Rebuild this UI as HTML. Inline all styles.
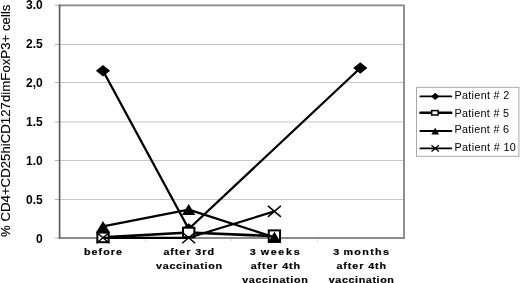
<!DOCTYPE html><html><head><meta charset="utf-8"><style>html,body{margin:0;padding:0;background:#fff;width:520px;height:283px;overflow:hidden}svg{display:block;will-change:transform}text{font-family:"Liberation Sans",sans-serif}</style></head><body>
<svg width="520" height="283" viewBox="0 0 520 283">
<rect width="520" height="283" fill="#fff"/>
<line x1="59.5" y1="44.5" x2="404.0" y2="44.5" stroke="#c6c6c6" stroke-width="1"/>
<line x1="59.5" y1="82.5" x2="404.0" y2="82.5" stroke="#c6c6c6" stroke-width="1"/>
<line x1="59.5" y1="122.0" x2="404.0" y2="122.0" stroke="#c6c6c6" stroke-width="1"/>
<line x1="59.5" y1="160.5" x2="404.0" y2="160.5" stroke="#c6c6c6" stroke-width="1"/>
<line x1="59.5" y1="199.5" x2="404.0" y2="199.5" stroke="#c6c6c6" stroke-width="1"/>
<line x1="55" y1="5.3" x2="59.5" y2="5.3" stroke="#b0b0b0" stroke-width="1"/>
<line x1="55" y1="44.5" x2="59.5" y2="44.5" stroke="#b0b0b0" stroke-width="1"/>
<line x1="55" y1="82.5" x2="59.5" y2="82.5" stroke="#b0b0b0" stroke-width="1"/>
<line x1="55" y1="122.0" x2="59.5" y2="122.0" stroke="#b0b0b0" stroke-width="1"/>
<line x1="55" y1="160.5" x2="59.5" y2="160.5" stroke="#b0b0b0" stroke-width="1"/>
<line x1="55" y1="199.5" x2="59.5" y2="199.5" stroke="#b0b0b0" stroke-width="1"/>
<line x1="55" y1="238" x2="59.5" y2="238" stroke="#b0b0b0" stroke-width="1"/>
<line x1="145.5" y1="238" x2="145.5" y2="241.5" stroke="#d8d8d8" stroke-width="1"/>
<line x1="231.5" y1="238" x2="231.5" y2="241.5" stroke="#d8d8d8" stroke-width="1"/>
<line x1="317.5" y1="238" x2="317.5" y2="241.5" stroke="#d8d8d8" stroke-width="1"/>
<line x1="59.5" y1="5.3" x2="404.8" y2="5.3" stroke="#888" stroke-width="1.7"/>
<line x1="404" y1="5.3" x2="404" y2="238" stroke="#909090" stroke-width="2"/>
<line x1="59.5" y1="238" x2="405" y2="238" stroke="#8c8c8c" stroke-width="2"/>
<line x1="59.6" y1="4.5" x2="59.6" y2="238.8" stroke="#5e5e5e" stroke-width="1.7"/>
<text x="42.8" y="8.90" text-anchor="end" font-size="12" font-weight="bold">3.0</text>
<text x="42.8" y="47.93" text-anchor="end" font-size="12" font-weight="bold">2.5</text>
<text x="42.8" y="86.96" text-anchor="end" font-size="12" font-weight="bold">2,0</text>
<text x="42.8" y="125.99" text-anchor="end" font-size="12" font-weight="bold">1.5</text>
<text x="42.8" y="165.02" text-anchor="end" font-size="12" font-weight="bold">1.0</text>
<text x="42.8" y="204.05" text-anchor="end" font-size="12" font-weight="bold">0.5</text>
<text x="42.8" y="243.08" text-anchor="end" font-size="12" font-weight="bold">0</text>
<text x="91.96" y="255.50" transform="scale(1.12 1)" text-anchor="middle" font-size="9.6" font-weight="bold" textLength="33.9" lengthAdjust="spacing" stroke="#000" stroke-width="0.2">before</text>
<text x="168.48" y="255.40" transform="scale(1.12 1)" text-anchor="middle" font-size="9.6" font-weight="bold" textLength="45.2" lengthAdjust="spacing" stroke="#000" stroke-width="0.2">after 3rd</text>
<text x="168.79" y="269.30" transform="scale(1.12 1)" text-anchor="middle" font-size="9.6" font-weight="bold" textLength="58.8" lengthAdjust="spacing" stroke="#000" stroke-width="0.2">vaccination</text>
<text x="245.27" y="255.40" transform="scale(1.12 1)" text-anchor="middle" font-size="9.6" font-weight="bold" textLength="44.5" lengthAdjust="spacing" stroke="#000" stroke-width="0.2" word-spacing="-1.3">3 weeks</text>
<text x="245.89" y="269.30" transform="scale(1.12 1)" text-anchor="middle" font-size="9.6" font-weight="bold" textLength="44.1" lengthAdjust="spacing" stroke="#000" stroke-width="0.2">after 4th</text>
<text x="245.49" y="283.20" transform="scale(1.12 1)" text-anchor="middle" font-size="9.6" font-weight="bold" textLength="58.5" lengthAdjust="spacing" stroke="#000" stroke-width="0.2">vaccination</text>
<text x="322.46" y="255.40" transform="scale(1.12 1)" text-anchor="middle" font-size="9.6" font-weight="bold" textLength="49.6" lengthAdjust="spacing" stroke="#000" stroke-width="0.2" word-spacing="-1.3">3 months</text>
<text x="322.63" y="269.30" transform="scale(1.12 1)" text-anchor="middle" font-size="9.6" font-weight="bold" textLength="44.4" lengthAdjust="spacing" stroke="#000" stroke-width="0.2">after 4th</text>
<text x="322.63" y="283.20" transform="scale(1.12 1)" text-anchor="middle" font-size="9.6" font-weight="bold" textLength="58.1" lengthAdjust="spacing" stroke="#000" stroke-width="0.2">vaccination</text>
<text transform="translate(10.2 120.8) rotate(-90)" text-anchor="middle" font-size="12.7" textLength="232.5" lengthAdjust="spacingAndGlyphs" stroke="#000" stroke-width="0.12">% CD4+CD25hiCD127dimFoxP3+ cells</text>
<polyline points="103.00,70.70 188.70,229.00 360.30,68.00" fill="none" stroke="#000" stroke-width="2.3" stroke-linejoin="round"/>
<polygon points="95.90,70.70 103.00,65.00 110.10,70.70 103.00,76.40" fill="#000"/>
<polygon points="181.60,229.00 188.70,223.30 195.80,229.00 188.70,234.70" fill="#000"/>
<polygon points="353.20,68.00 360.30,62.30 367.40,68.00 360.30,73.70" fill="#000"/>
<polyline points="103.00,237.40 188.70,232.50 274.40,236.10" fill="none" stroke="#000" stroke-width="2.6" stroke-linejoin="round"/>
<rect x="97.35" y="232.60" width="11.30" height="9.60" fill="#fff" stroke="#000" stroke-width="2"/>
<rect x="183.05" y="227.70" width="11.30" height="9.60" fill="#fff" stroke="#000" stroke-width="2"/>
<rect x="268.75" y="230.40" width="11.30" height="11.40" fill="#fff" stroke="#000" stroke-width="2"/>
<polyline points="103.00,226.40 188.70,209.60 274.40,237.30" fill="none" stroke="#000" stroke-width="2.3" stroke-linejoin="round"/>
<polygon points="96.35,231.90 103.00,220.90 109.65,231.90" fill="#000"/>
<polygon points="182.05,215.10 188.70,204.10 195.35,215.10" fill="#000"/>
<polygon points="267.75,242.80 274.40,231.80 281.05,242.80" fill="#000"/>
<polyline points="103.00,237.80 188.70,237.80 274.40,211.40" fill="none" stroke="#000" stroke-width="2.2" stroke-linejoin="round"/>
<path d="M96.50 232.30L109.50 243.30M109.50 232.30L96.50 243.30" stroke="#000" stroke-width="1.5" fill="none"/>
<path d="M182.20 232.30L195.20 243.30M195.20 232.30L182.20 243.30" stroke="#000" stroke-width="1.5" fill="none"/>
<path d="M267.90 205.90L280.90 216.90M280.90 205.90L267.90 216.90" stroke="#000" stroke-width="1.5" fill="none"/>
<rect x="416.5" y="87.3" width="102.4" height="69" fill="#fff" stroke="#a8a8a8" stroke-width="1"/>
<line x1="420.4" y1="96.4" x2="451.3" y2="96.4" stroke="#000" stroke-width="1.9" stroke-linecap="round"/>
<polygon points="431.10,96.40 435.20,92.70 439.30,96.40 435.20,100.10" fill="#000"/>
<text x="428.77" y="99.30" transform="scale(1.06 1)" font-size="10.2" textLength="51.6" lengthAdjust="spacing">Patient # 2</text>
<line x1="420.4" y1="112.8" x2="451.3" y2="112.8" stroke="#000" stroke-width="2.4" stroke-linecap="round"/>
<rect x="431.7" y="110.6" width="6.4" height="4.4" fill="#fff" stroke="#000" stroke-width="1.5"/>
<text x="428.77" y="116.60" transform="scale(1.06 1)" font-size="10.2" textLength="51.4" lengthAdjust="spacing">Patient # 5</text>
<line x1="420.4" y1="131.0" x2="451.3" y2="131.0" stroke="#000" stroke-width="2.0" stroke-linecap="round"/>
<polygon points="431.30,134.40 435.20,127.80 439.10,134.40" fill="#000"/>
<text x="428.77" y="133.50" transform="scale(1.06 1)" font-size="10.2" textLength="51.4" lengthAdjust="spacing">Patient # 6</text>
<line x1="420.4" y1="148.4" x2="451.3" y2="148.4" stroke="#000" stroke-width="1.8" stroke-linecap="round"/>
<path d="M431.50 145.30L438.90 151.50M438.90 145.30L431.50 151.50" stroke="#000" stroke-width="1.3" fill="none"/>
<text x="428.77" y="151.40" transform="scale(1.06 1)" font-size="10.2" textLength="57.8" lengthAdjust="spacing">Patient # 10</text>
</svg></body></html>
